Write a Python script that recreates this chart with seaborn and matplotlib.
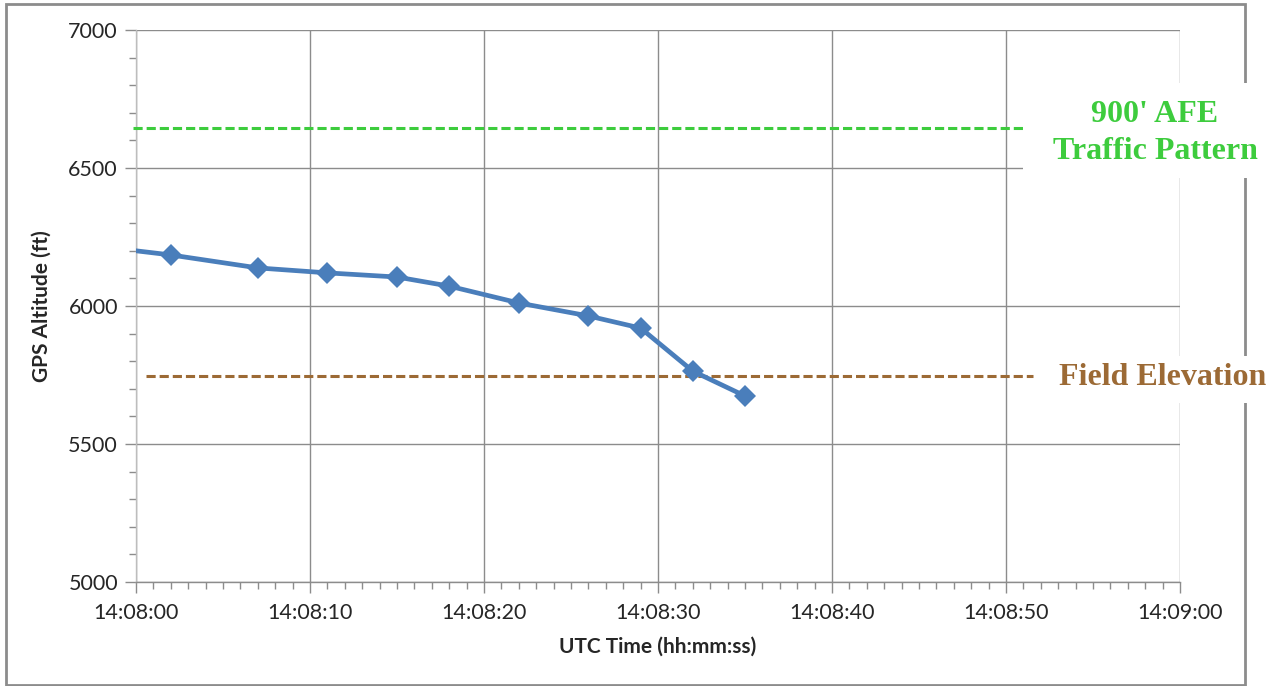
import pandas as pd
import numpy as np
import seaborn as sns
import matplotlib.pyplot as plt
import matplotlib.dates as mdates
from matplotlib.patches import Rectangle

# GPS track
times = ['14:08:00', '14:08:02', '14:08:07', '14:08:11', '14:08:15', '14:08:18',
         '14:08:22', '14:08:26', '14:08:29', '14:08:32', '14:08:35']
altitudes = [6200, 6185, 6138, 6120, 6105, 6072, 6011, 5964, 5920, 5764, 5674]

pattern_alt = 6645      # 900' AFE
field_elev = 5745

df = pd.DataFrame({'time': pd.to_datetime(['2000-01-01 ' + t for t in times]),
                   'alt': altitudes})

sns.set_style('white')
plt.rcParams['font.family'] = ['Lato', 'DejaVu Sans']

fig = plt.figure(figsize=(12.81, 6.86), dpi=100)
ax = fig.add_axes([136 / 1281, 1 - 582 / 686, 1044 / 1281, 552 / 686])

sns.lineplot(data=df, x='time', y='alt', ax=ax, color='#4a7ebb', linewidth=3.4,
             marker='D', markersize=11.5, markeredgewidth=0, markevery=list(range(1, len(df))),
             zorder=5)

ax.axhline(pattern_alt, xmin=-0.003, xmax=0.850, color='#3dcc3d', linewidth=2.2,
           dashes=(3.0, 1.3), clip_on=False, zorder=4)
ax.axhline(field_elev, xmin=0.010, xmax=0.859, color='#9c6a35', linewidth=2.2,
           dashes=(3.0, 1.3), clip_on=False, zorder=4)

t0 = pd.Timestamp('2000-01-01 14:08:00')
t1 = pd.Timestamp('2000-01-01 14:09:00')
ax.set_xlim(t0, t1)
ax.set_ylim(5000, 7000)
ax.set_yticks(np.arange(5000, 7001, 500))
ax.yaxis.set_minor_locator(plt.MultipleLocator(100))
ax.xaxis.set_major_locator(mdates.SecondLocator(bysecond=range(0, 60, 10)))
ax.xaxis.set_minor_locator(mdates.SecondLocator())
ax.xaxis.set_major_formatter(mdates.DateFormatter('%H:%M:%S'))

ax.grid(True, which='major', color='#8c8c8c', linewidth=1)
for s in ['top', 'right']:
    ax.spines[s].set_visible(False)
ax.spines['left'].set_color('#bdbdbd')
ax.spines['bottom'].set_color('#8c8c8c')
for s in ['left', 'bottom']:
    ax.spines[s].set_linewidth(1)

ax.tick_params(which='both', bottom=True, left=True)
ax.tick_params(axis='both', which='major', direction='out', length=8, width=1,
               color='#8c8c8c', labelsize=15.5, labelcolor='#262626')
ax.tick_params(axis='both', which='minor', direction='out', length=5, width=1,
               color='#8c8c8c')
ax.tick_params(axis='x', which='major', pad=7)
ax.tick_params(axis='y', which='major', pad=5)

ax.set_xlabel('UTC Time (hh:mm:ss)', fontsize=15, fontweight='bold', labelpad=10)
ax.set_ylabel('GPS Altitude (ft)', fontsize=15, fontweight='bold', labelpad=12)

# outer frame
fig.patches.append(Rectangle((6 / 1281, 1 / 686), 1239 / 1281, 1 - 5 / 686,
                             transform=fig.transFigure, fill=False,
                             edgecolor='#8c8c8c', linewidth=2, zorder=0))

# white boxes hiding grid and frame behind the labels
fig.patches.append(Rectangle((1023 / 1281, 1 - 178 / 686), 245 / 1281, 95 / 686,
                             transform=fig.transFigure, facecolor='white',
                             edgecolor='none', zorder=8))
fig.patches.append(Rectangle((1034 / 1281, 1 - 403 / 686), 245 / 1281, 47 / 686,
                             transform=fig.transFigure, facecolor='white',
                             edgecolor='none', zorder=8))

fig.text(1155 / 1281, 1 - 133 / 686, "900' AFE\nTraffic Pattern", ha='center', va='center',
         family='Liberation Serif', fontweight='bold', fontsize=23, color='#3dcc3d',
         linespacing=1.39, zorder=10)
fig.text(1163 / 1281, 1 - 378 / 686, 'Field Elevation', ha='center', va='center',
         family='Liberation Serif', fontweight='bold', fontsize=23, color='#9c6a35',
         zorder=10)

plt.savefig('out.png', dpi=100)
